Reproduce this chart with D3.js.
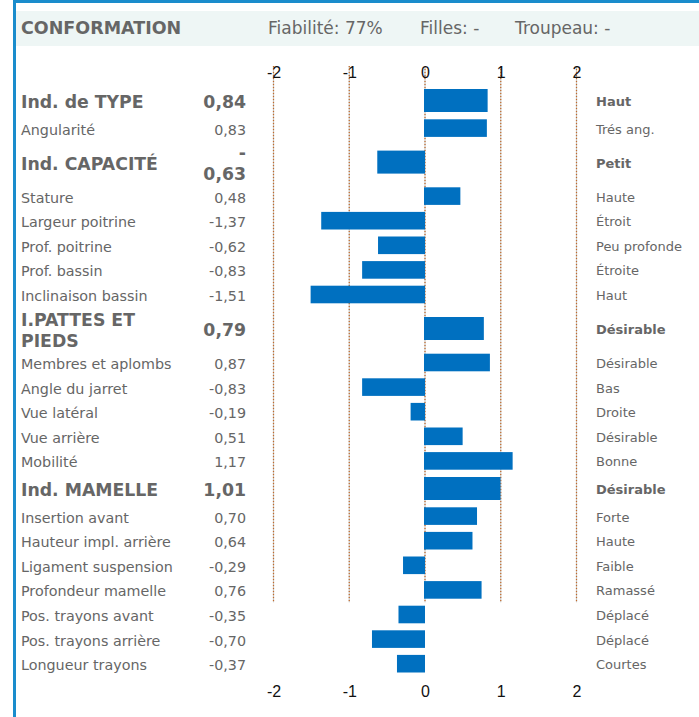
<!DOCTYPE html>
<html><head><meta charset="utf-8">
<script src="https://cdn.jsdelivr.net/npm/d3@7"></script>
<style>body{margin:0;background:#fff;overflow:hidden} svg{display:block}</style>
</head><body><svg id="c" width="699" height="717"></svg>
<script>
// ---- data ----
const title = "CONFORMATION";
const headerInfo = ["Fiabilité: 77%", "Filles: -", "Troupeau: -"];
const labels = ["Ind. de TYPE","Angularité","Ind. CAPACITÉ","Stature","Largeur poitrine","Prof. poitrine","Prof. bassin","Inclinaison bassin","I.PATTES ET PIEDS","Membres et aplombs","Angle du jarret","Vue latéral","Vue arrière","Mobilité","Ind. MAMELLE","Insertion avant","Hauteur impl. arrière","Ligament suspension","Profondeur mamelle","Pos. trayons avant","Pos. trayons arrière","Longueur trayons"];
const values = [0.84,0.83,-0.63,0.48,-1.37,-0.62,-0.83,-1.51,0.79,0.87,-0.83,-0.19,0.51,1.17,1.01,0.70,0.64,-0.29,0.76,-0.35,-0.70,-0.37];
const descriptors = ["Haut","Trés ang.","Petit","Haute","Étroit","Peu profonde","Étroite","Haut","Désirable","Désirable","Bas","Droite","Désirable","Bonne","Désirable","Forte","Haute","Faible","Ramassé","Déplacé","Déplacé","Courtes"];
const isIndex = [true,false,true,false,false,false,false,false,true,false,false,false,false,false,true,false,false,false,false,false,false,false];
const tickValues = [-2,-1,0,1,2];
const gridEndRow = "Profondeur mamelle";

// ---- layout ----
const W = 699, H = 717;
const svg = d3.select("#c");
const grey = "#666666";
const fmt = v => d3.format(".2f")(v).replace(".", ",").replace("−","-");

// frame
svg.append("rect").attr("x",14.5).attr("y",1.5).attr("width",W).attr("height",H).attr("fill","#fff").attr("stroke","#1a8ccc").attr("stroke-width",3);
// header band
svg.append("rect").attr("x",16).attr("y",11).attr("width",W-16).attr("height",35).attr("fill","#eef6f5");
svg.append("text").attr("x",21).attr("y",28).attr("dominant-baseline","central")
  .style("font-family","DejaVu Sans").style("font-weight","bold").style("font-size","17.5px").attr("fill",grey).text(title);
const headerX = [268, 420, 515];
svg.selectAll("text.hdr").data(headerInfo).join("text").attr("class","hdr")
  .attr("x",(d,i)=>headerX[i]).attr("y",28).attr("dominant-baseline","central")
  .style("font-family","DejaVu Sans").style("font-size","17px").attr("fill",grey).text(d=>d);

// rows
function wrapLabel(l){ return l === "I.PATTES ET PIEDS" ? ["I.PATTES ET","PIEDS"] : [l]; }
const rows = labels.map((l,i)=>{
  const words = isIndex[i] ? wrapLabel(l) : [l];
  const vstr = fmt(values[i]);
  const vlines = (isIndex[i] && values[i] < 0) ? ["-", vstr.slice(1)] : [vstr];
  const lines = Math.max(words.length, vlines.length);
  const h = isIndex[i] ? (lines > 1 ? 43.4 : 30.6) : 24.6;
  return {label:l, lines:words, vlines, value:values[i], desc:descriptors[i], idx:isIndex[i], h};
});
let y0 = 85.2;
rows.forEach(r=>{ r.top = y0; r.cy = y0 + r.h/2; y0 += r.h; });

const x = d3.scaleLinear().domain([-2,2]).range([273.5,576.5]);

// gridlines
const gridEnd = rows.find(r=>r.label===gridEndRow);
const gy1 = 66, gy2 = gridEnd.top + gridEnd.h;
const grid = svg.append("g");
grid.selectAll("line.g1").data(tickValues).join("line").attr("class","g1")
  .attr("x1",d=>x(d)).attr("x2",d=>x(d)).attr("y1",gy1).attr("y2",gy2)
  .attr("stroke","#c9c2bb").attr("stroke-width",1.2);
grid.selectAll("line.g2").data(tickValues).join("line").attr("class","g2")
  .attr("x1",d=>x(d)).attr("x2",d=>x(d)).attr("y1",gy1).attr("y2",gy2)
  .attr("stroke","#c2692a").attr("stroke-width",1.2).attr("stroke-dasharray","1,2");

// axis labels top & bottom
const tickFont = "'Liberation Sans Narrow','Liberation Sans',Arial,sans-serif";
function axisLabels(yPos){
  const ax = d3.axisTop(x).tickValues(tickValues).tickSize(0).tickPadding(0).tickFormat(d=>d3.format("d")(d).replace("−","-"));
  const g = svg.append("g").attr("transform",`translate(0,${yPos})`).call(ax);
  g.select(".domain").remove();
  g.selectAll("text").attr("dy",null).attr("y",0).attr("dominant-baseline","central")
    .style("font-family",tickFont).style("font-size","16px").attr("fill","#111");
}
axisLabels(72);
axisLabels(691);

// bars
svg.append("g").selectAll("rect").data(rows).join("rect")
  .attr("x",d=>Math.min(x(0)-1,x(d.value)))
  .attr("width",d=>Math.abs(x(d.value)-x(0)))
  .attr("y",d=>d.cy - (d.idx?11.5:8.8))
  .attr("height",d=>d.idx?23:17.6)
  .attr("fill","#0070c0");

// text columns
const tg = svg.append("g").style("font-family","DejaVu Sans").attr("fill",grey);
rows.forEach(r=>{
  const fs = r.idx ? 17.3 : 14.3;
  const lh = 21;
  const lab = tg.append("text").attr("x",21).style("font-size",fs+"px").style("font-weight",r.idx?"bold":"normal").attr("dominant-baseline","central");
  r.lines.forEach((ln,j)=>{
    lab.append("tspan").attr("x",21).attr("y", r.cy + 1.5 + (j-(r.lines.length-1)/2)*lh).text(ln);
  });
  const val = tg.append("text").attr("text-anchor","end").style("font-size",fs+"px").style("font-weight",r.idx?"bold":"normal").attr("dominant-baseline","central");
  r.vlines.forEach((ln,j)=>{
    val.append("tspan").attr("x",246).attr("y", r.cy + 1.5 + (j-(r.vlines.length-1)/2)*lh).text(ln);
  });
  tg.append("text").attr("x",596).attr("y",r.cy+1).attr("dominant-baseline","central")
    .style("font-size","13px").style("font-weight",r.idx?"bold":"normal").text(r.desc);
});
</script>
</body></html>
